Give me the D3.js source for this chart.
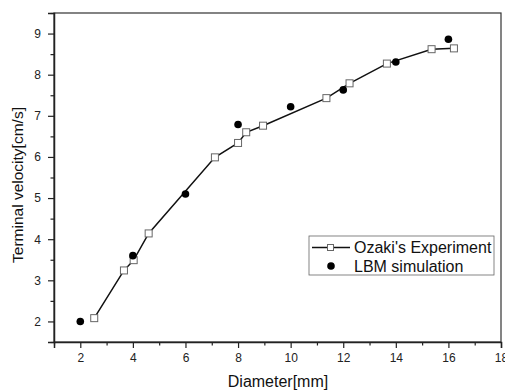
<!DOCTYPE html>
<html>
<head>
<meta charset="utf-8">
<script src="https://cdn.jsdelivr.net/npm/d3@7/dist/d3.min.js"></script>
<style>
	body { margin: 0; background: #fff; }
	svg { display: block; font-family: "Liberation Sans", Arial, sans-serif; }
	.tick text { font-size: 12px; fill: #222; }
</style>
</head>
<body>
<div class="chart"></div>
<script>
// Ozaki's experiment (squares + line)
var expDiameter = [2.53, 3.66, 4.03, 4.6, 7.12, 8.0, 8.31, 8.95, 11.36, 12.24, 13.66, 15.36, 16.21];
var expVelocity = [2.08, 3.24, 3.49, 4.14, 5.99, 6.34, 6.6, 6.76, 7.43, 7.79, 8.27, 8.62, 8.64];
// LBM simulation (filled circles)
var lbmDiameter = [2, 4, 6, 8, 10, 12, 14, 16];
var lbmVelocity = [2.0, 3.6, 5.1, 6.79, 7.22, 7.63, 8.31, 8.86];

var xTicks = [2, 4, 6, 8, 10, 12, 14, 16, 18];
var xMinor = [1, 3, 5, 7, 9, 11, 13, 15, 17];
var yTicks = [2, 3, 4, 5, 6, 7, 8, 9];
var yMinor = [1.5, 2.5, 3.5, 4.5, 5.5, 6.5, 7.5, 8.5, 9.5];

var W = 505, H = 392,
	margin = {top: 13, right: 4, bottom: 50, left: 54},
	width = W - margin.left - margin.right,
	height = H - margin.top - margin.bottom;

var svg = d3.select('.chart').append('svg')
	.attr('width', W)
	.attr('height', H);

var g = svg.append('g').attr('transform', 'translate(' + margin.left + ',' + margin.top + ')');

var x = d3.scaleLinear().domain([1, 18]).range([0, width]);
var y = d3.scaleLinear().domain([1.5, 9.5]).range([height, 0]);

// frame
g.append('rect')
	.attr('width', width)
	.attr('height', height)
	.attr('fill', 'none')
	.attr('stroke', '#333')
	.attr('stroke-width', 1.2);

// axes
g.append('g')
	.attr('transform', 'translate(0,' + height + ')')
	.call(d3.axisBottom(x).tickValues(xMinor).tickSize(3.5).tickFormat(''))
	.call(function(a) { a.select('.domain').remove(); });
g.append('g')
	.attr('transform', 'translate(0,' + height + ')')
	.call(d3.axisBottom(x).tickValues(xTicks).tickSize(6).tickPadding(5).tickFormat(d3.format('d')))
	.call(function(a) { a.select('.domain').attr('stroke', '#222').attr('stroke-width', 1.5); });

g.append('g')
	.call(d3.axisLeft(y).tickValues(yMinor).tickSize(3.5).tickFormat(''))
	.call(function(a) { a.select('.domain').remove(); });
g.append('g')
	.call(d3.axisLeft(y).tickValues(yTicks).tickSize(6).tickPadding(7).tickFormat(d3.format('d')))
	.call(function(a) { a.select('.domain').attr('stroke', '#222').attr('stroke-width', 1.5); });

g.selectAll('.tick line').attr('stroke', '#222').attr('stroke-width', 1.2);

// experiment line + squares
var expData = expDiameter.map(function(d, i) { return {x: d, y: expVelocity[i]}; });
var lbmData = lbmDiameter.map(function(d, i) { return {x: d, y: lbmVelocity[i]}; });

g.append('path')
	.datum(expData)
	.attr('fill', 'none')
	.attr('stroke', '#111')
	.attr('stroke-width', 1.5)
	.attr('d', d3.line().x(function(d) { return x(d.x); }).y(function(d) { return y(d.y); }));

g.selectAll('.sq')
	.data(expData)
	.enter().append('rect')
	.attr('class', 'sq')
	.attr('x', function(d) { return x(d.x) - 3.5; })
	.attr('y', function(d) { return y(d.y) - 3.5; })
	.attr('width', 7)
	.attr('height', 7)
	.attr('fill', '#fff')
	.attr('stroke', '#666')
	.attr('stroke-width', 1);

g.selectAll('.dot')
	.data(lbmData)
	.enter().append('circle')
	.attr('class', 'dot')
	.attr('cx', function(d) { return x(d.x); })
	.attr('cy', function(d) { return y(d.y); })
	.attr('r', 3.8)
	.attr('fill', '#000');

// axis titles
svg.append('text')
	.attr('x', 278)
	.attr('y', 387)
	.attr('text-anchor', 'middle')
	.attr('font-size', 16)
	.attr('fill', '#111')
	.text('Diameter[mm]');

svg.append('text')
	.attr('transform', 'translate(23,185) rotate(-90)')
	.attr('text-anchor', 'middle')
	.attr('font-size', 15.5)
	.attr('fill', '#111')
	.text('Terminal velocity[cm/s]');

// legend
var lg = svg.append('g').attr('transform', 'translate(309,236)');
lg.append('rect')
	.attr('width', 185)
	.attr('height', 39)
	.attr('fill', '#fff')
	.attr('stroke', '#666')
	.attr('stroke-width', 0.8);
lg.append('line')
	.attr('x1', 3).attr('x2', 41)
	.attr('y1', 11.5).attr('y2', 11.5)
	.attr('stroke', '#111').attr('stroke-width', 1.5);
lg.append('rect')
	.attr('x', 18.5).attr('y', 8.5)
	.attr('width', 6).attr('height', 6)
	.attr('fill', '#fff').attr('stroke', '#666');
lg.append('circle')
	.attr('cx', 22).attr('cy', 30)
	.attr('r', 3.8).attr('fill', '#000');
lg.append('text')
	.attr('x', 45).attr('y', 17)
	.attr('font-size', 16).attr('fill', '#111')
	.text("Ozaki's Experiment");
lg.append('text')
	.attr('x', 45).attr('y', 36)
	.attr('font-size', 16).attr('fill', '#111')
	.text('LBM simulation');
</script>
</body>
</html>
